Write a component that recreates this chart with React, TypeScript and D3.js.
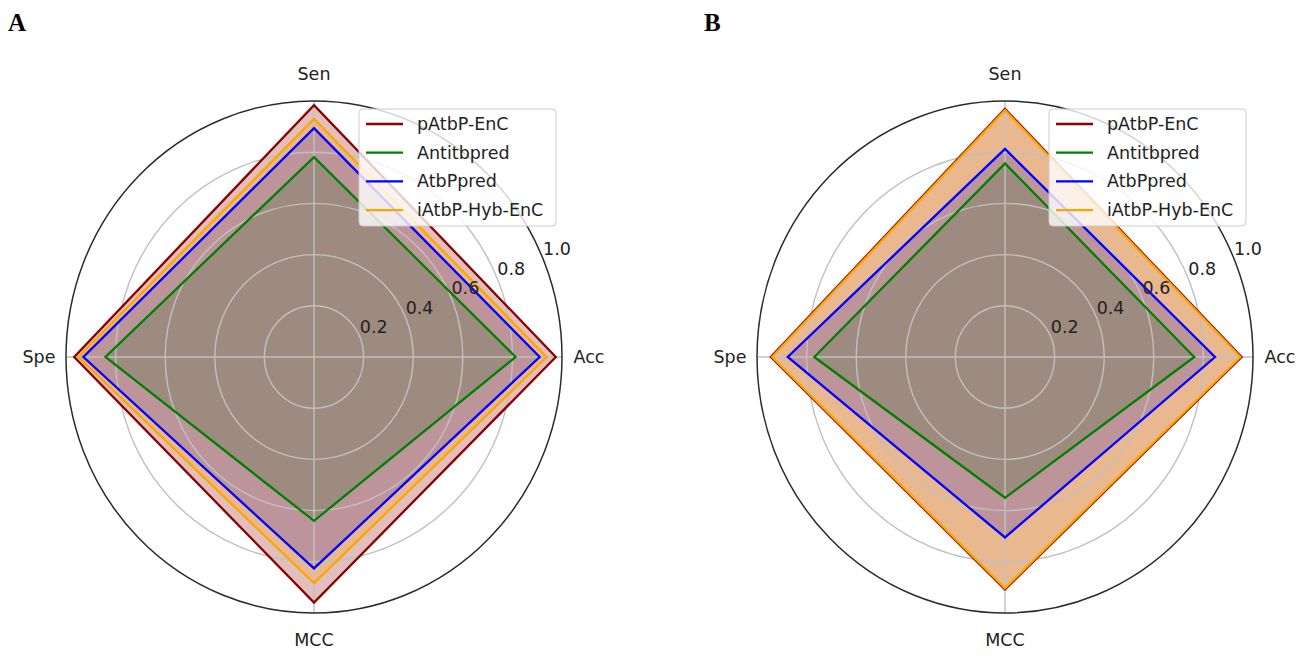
import React, { useRef, useEffect } from 'react';
import { select, scaleLinear, line, curveLinearClosed } from 'd3';

// metrics go counter-clockwise starting at the right (like matplotlib polar)
const metrics = ["Acc", "Sen", "Spe", "MCC"];
const models = ["pAtbP-EnC", "Antitbpred", "AtbPpred", "iAtbP-Hyb-EnC"];
const colors = ["#8b0000", "#008000", "#0000ff", "#ffa500"];
const ringTicks = [0.2, 0.4, 0.6, 0.8, 1.0];

// panel A  (Acc, Sen, Spe, MCC)
const pAtbP_A = [0.975, 0.984, 0.967, 0.959];
const antitb_A = [0.813, 0.781, 0.841, 0.640];
const atbp_A = [0.910, 0.894, 0.930, 0.826];
const hyb_A = [0.938, 0.930, 0.950, 0.883];

// panel B
const pAtbP_B = [0.954, 0.969, 0.944, 0.908];
const antitb_B = [0.763, 0.756, 0.769, 0.550];
const atbp_B = [0.847, 0.813, 0.876, 0.705];
const hyb_B = [0.949, 0.964, 0.939, 0.903];

const W = 1302, H = 658;
const CY = 357, RX = 248, RY = 256;
const FONT = "DejaVu Sans, sans-serif";

function drawRadar(g, values, cx, legendX) {
  const xr = scaleLinear().domain([0, 1]).range([0, RX]);
  const yr = scaleLinear().domain([0, 1]).range([0, RY]);
  const ang = scaleLinear().domain([0, metrics.length]).range([0, 2 * Math.PI]);
  const pt = (v, i) => [cx + xr(v) * Math.cos(ang(i)), CY - yr(v) * Math.sin(ang(i))];
  const path = line().curve(curveLinearClosed);

  // fills first (patches sit under lines)
  g.selectAll("path.fill").data(values).join("path")
    .attr("class", "fill")
    .attr("d", d => path(d.map(pt)))
    .attr("fill", (d, i) => colors[i])
    .attr("fill-opacity", 0.25)
    .attr("stroke", "none");

  // grid rings + spokes
  g.selectAll("ellipse.ring").data(ringTicks.slice(0, -1)).join("ellipse")
    .attr("class", "ring")
    .attr("cx", cx).attr("cy", CY)
    .attr("rx", d => xr(d)).attr("ry", d => yr(d))
    .attr("fill", "none").attr("stroke", "#c0c0c0").attr("stroke-width", 1.4);

  g.selectAll("line.spoke").data(metrics).join("line")
    .attr("class", "spoke")
    .attr("x1", cx).attr("y1", CY)
    .attr("x2", (d, i) => pt(1, i)[0]).attr("y2", (d, i) => pt(1, i)[1])
    .attr("stroke", "#c0c0c0").attr("stroke-width", 1.4);

  // series lines
  g.selectAll("path.series").data(values).join("path")
    .attr("class", "series")
    .attr("d", d => path(d.map(pt)))
    .attr("fill", "none")
    .attr("stroke", (d, i) => colors[i])
    .attr("stroke-width", 2.3)
    .attr("stroke-linejoin", "miter");

  // outer spine
  g.append("ellipse")
    .attr("cx", cx).attr("cy", CY).attr("rx", xr(1)).attr("ry", yr(1))
    .attr("fill", "none").attr("stroke", "#2a2a2a").attr("stroke-width", 1.5);

  // metric labels
  g.selectAll("text.metric").data(metrics).join("text")
    .attr("class", "metric")
    .attr("x", (d, i) => cx + (xr(1) + 27) * Math.cos(ang(i)))
    .attr("y", (d, i) => CY - (yr(1) + 27) * Math.sin(ang(i)))
    .attr("text-anchor", "middle")
    .attr("dominant-baseline", "central")
    .attr("font-family", FONT).attr("font-size", 17.5).attr("fill", "#222")
    .text(d => d);

  // radial tick labels at 22.5 degrees
  const a = Math.PI / 8;
  g.selectAll("text.rtick").data(ringTicks).join("text")
    .attr("class", "rtick")
    .attr("x", d => cx + xr(d) * Math.cos(a))
    .attr("y", d => CY - yr(d) * Math.sin(a) - 10)
    .attr("text-anchor", "start")
    .attr("dominant-baseline", "central")
    .attr("font-family", FONT).attr("font-size", 17.5).attr("fill", "#222")
    .text(d => d.toFixed(1));

  // legend
  const lg = g.append("g").attr("transform", `translate(${legendX},109)`);
  lg.append("rect")
    .attr("width", 197).attr("height", 117).attr("rx", 4)
    .attr("fill", "white").attr("fill-opacity", 0.8)
    .attr("stroke", "#cccccc").attr("stroke-width", 1);
  const rows = lg.selectAll("g.row").data(models).join("g")
    .attr("class", "row")
    .attr("transform", (d, i) => `translate(0,${15 + i * 28.7})`);
  rows.append("line")
    .attr("x1", 7).attr("x2", 44).attr("y1", 0).attr("y2", 0)
    .attr("stroke", (d, i) => colors[i]).attr("stroke-width", 2.3);
  rows.append("text")
    .attr("x", 58).attr("y", 0)
    .attr("dominant-baseline", "central")
    .attr("font-family", FONT).attr("font-size", 17.5).attr("fill", "#222")
    .text(d => d);
}

export default function App() {
  const svgRef = useRef(null);

  useEffect(() => {
    const svg = select(svgRef.current);
    svg.selectAll("*").remove();
    svg.append("rect").attr("width", W).attr("height", H).attr("fill", "white");

    const panels = [
      { letter: "A", lx: 8, cx: 314, legendX: 359, values: [pAtbP_A, antitb_A, atbp_A, hyb_A] },
      { letter: "B", lx: 704, cx: 1005, legendX: 1049, values: [pAtbP_B, antitb_B, atbp_B, hyb_B] },
    ];

    panels.forEach(p => {
      const g = svg.append("g");
      drawRadar(g, p.values, p.cx, p.legendX);
      svg.append("text")
        .attr("x", p.lx).attr("y", 31)
        .attr("font-family", "Liberation Serif, Times New Roman, serif")
        .attr("font-weight", "bold").attr("font-size", 25).attr("fill", "#000")
        .text(p.letter);
    });
  }, []);

  return (
    <svg ref={svgRef} width={W} height={H}
      style={{ position: "absolute", left: 0, top: 0, display: "block" }} />
  );
}
